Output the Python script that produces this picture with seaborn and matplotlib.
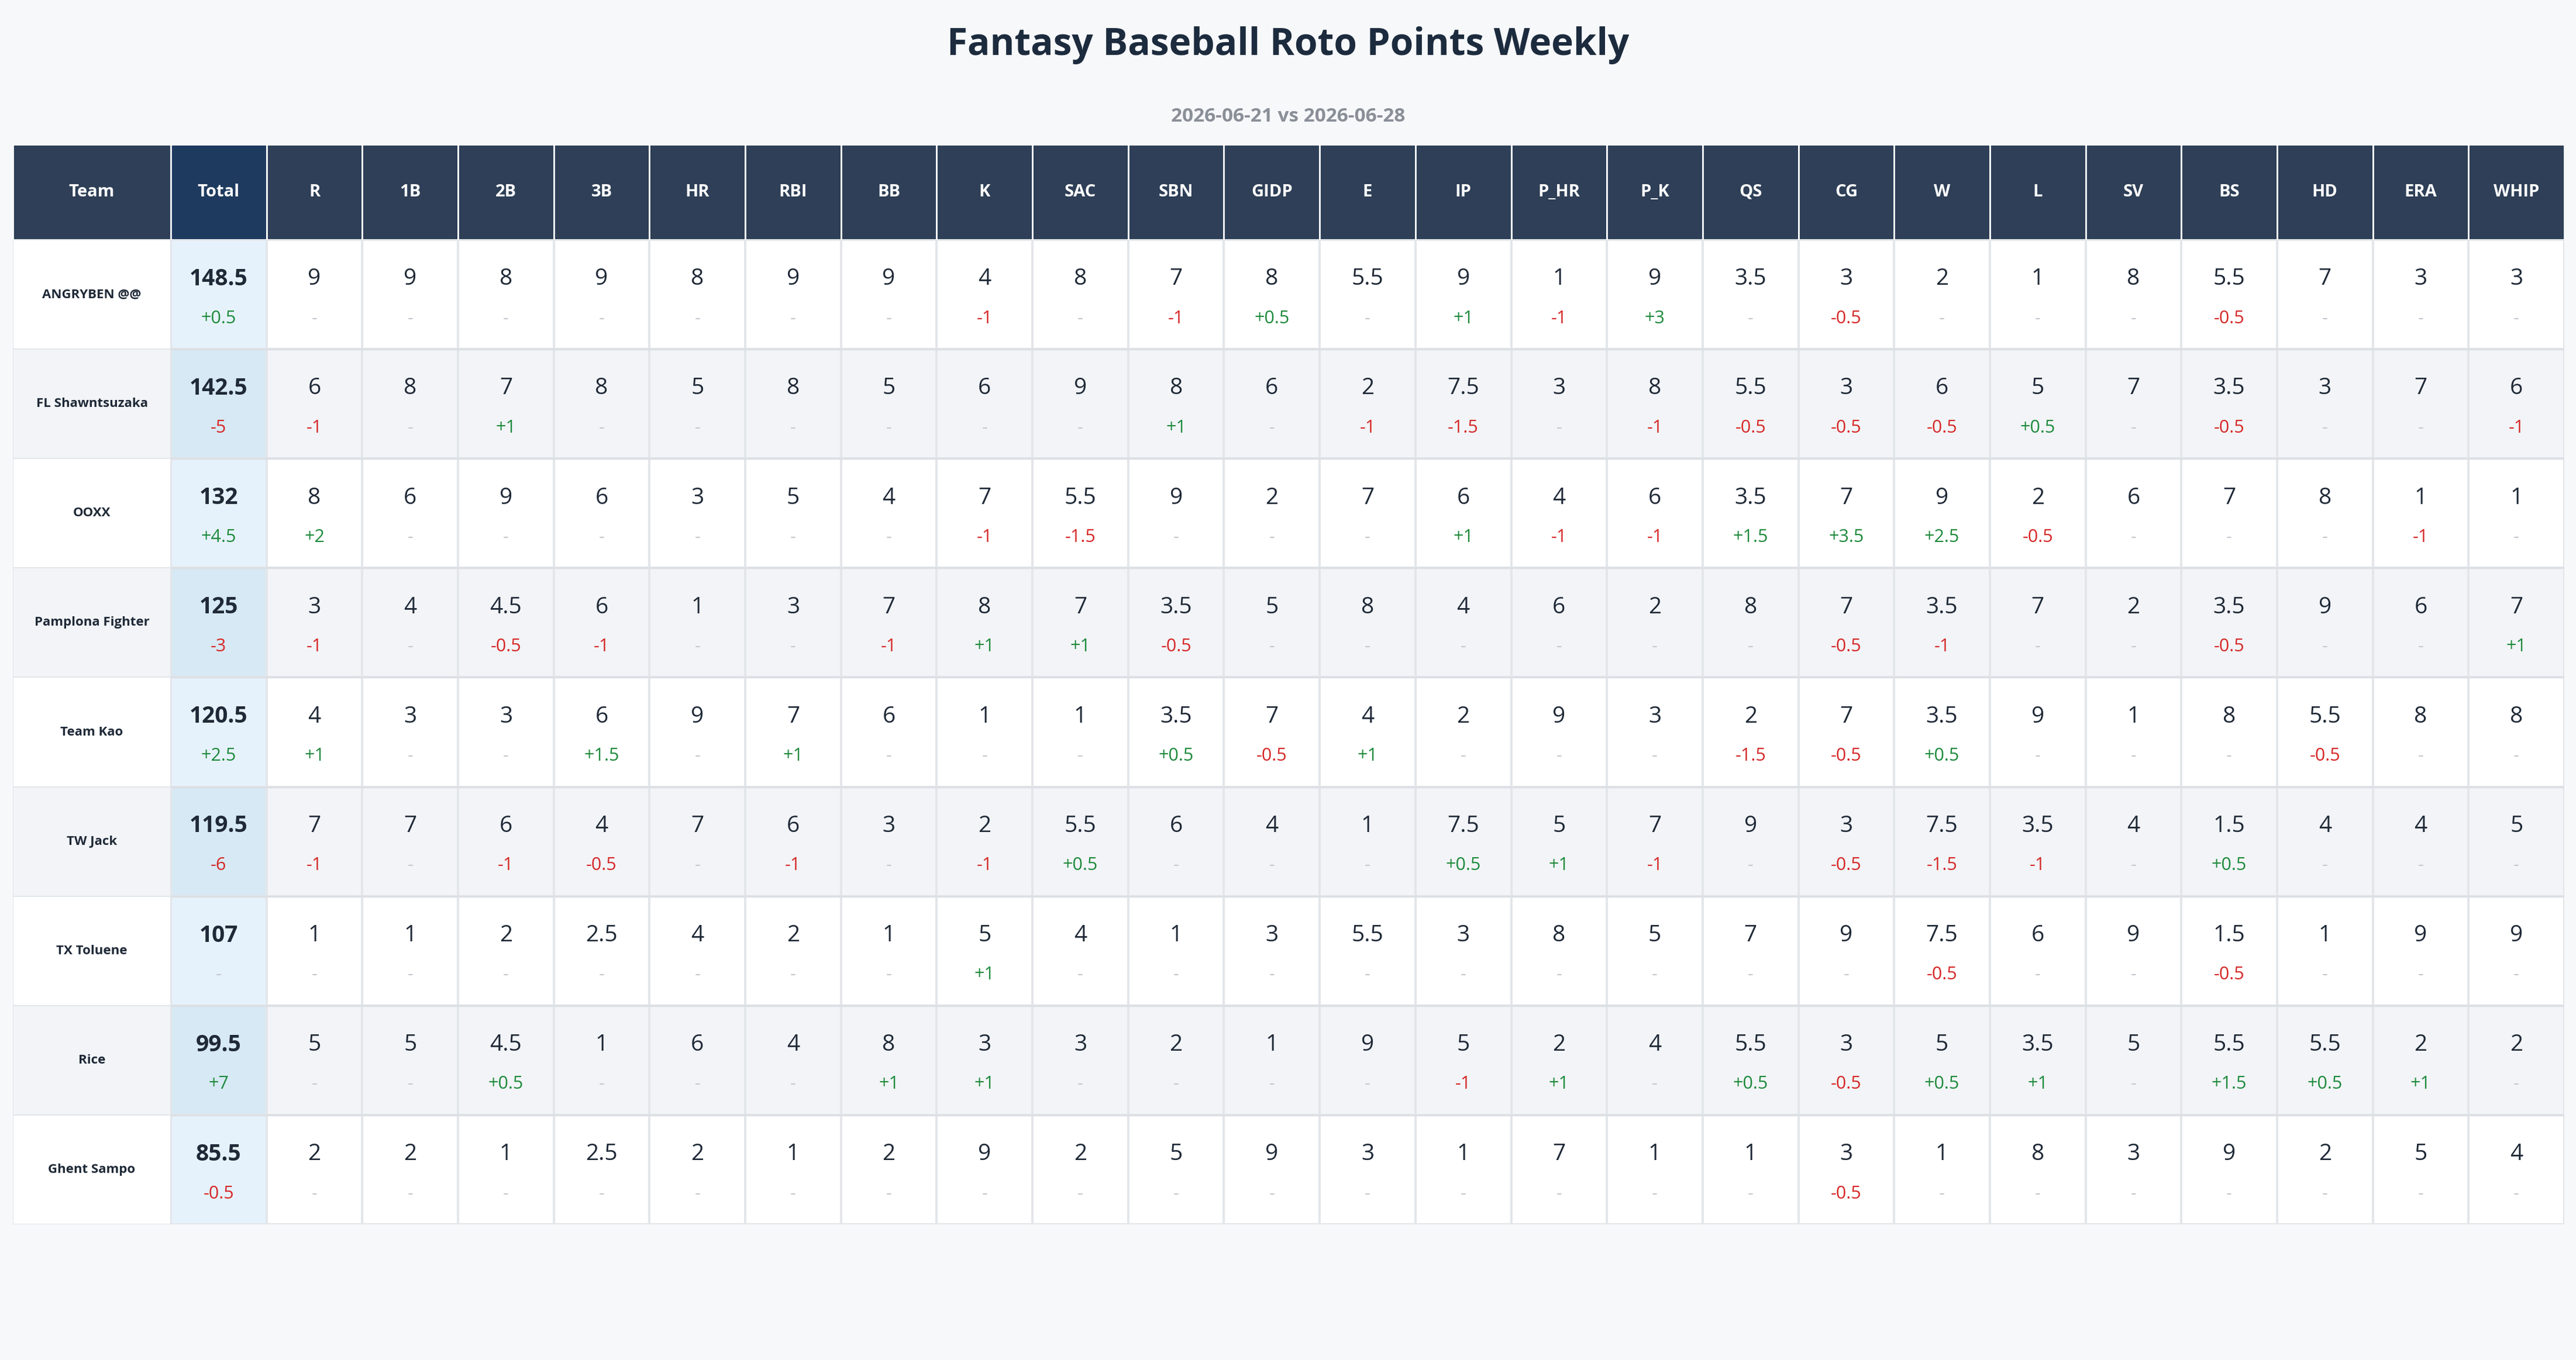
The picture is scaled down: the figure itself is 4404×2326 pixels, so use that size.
import numpy as np
import pandas as pd
import matplotlib.pyplot as plt
import seaborn as sns
from matplotlib.colors import ListedColormap
from matplotlib.patches import Rectangle

# ---- data ----
title = "Fantasy Baseball Roto Points Weekly"
subtitle = "2026-06-21 vs 2026-06-28"
categories = ["R", "1B", "2B", "3B", "HR", "RBI", "BB", "K", "SAC", "SBN", "GIDP", "E",
              "IP", "P_HR", "P_K", "QS", "CG", "W", "L", "SV", "BS", "HD", "ERA", "WHIP"]
teams = ["ANGRYBEN @@", "FL Shawntsuzaka", "OOXX", "Pamplona Fighter", "Team Kao",
         "TW Jack", "TX Toluene", "Rice", "Ghent Sampo"]
totals = [148.5, 142.5, 132, 125, 120.5, 119.5, 107, 99.5, 85.5]
total_delta = [0.5, -5, 4.5, -3, 2.5, -6, 0, 7, -0.5]
points = [
    [9, 9, 8, 9, 8, 9, 9, 4, 8, 7, 8, 5.5, 9, 1, 9, 3.5, 3, 2, 1, 8, 5.5, 7, 3, 3],
    [6, 8, 7, 8, 5, 8, 5, 6, 9, 8, 6, 2, 7.5, 3, 8, 5.5, 3, 6, 5, 7, 3.5, 3, 7, 6],
    [8, 6, 9, 6, 3, 5, 4, 7, 5.5, 9, 2, 7, 6, 4, 6, 3.5, 7, 9, 2, 6, 7, 8, 1, 1],
    [3, 4, 4.5, 6, 1, 3, 7, 8, 7, 3.5, 5, 8, 4, 6, 2, 8, 7, 3.5, 7, 2, 3.5, 9, 6, 7],
    [4, 3, 3, 6, 9, 7, 6, 1, 1, 3.5, 7, 4, 2, 9, 3, 2, 7, 3.5, 9, 1, 8, 5.5, 8, 8],
    [7, 7, 6, 4, 7, 6, 3, 2, 5.5, 6, 4, 1, 7.5, 5, 7, 9, 3, 7.5, 3.5, 4, 1.5, 4, 4, 5],
    [1, 1, 2, 2.5, 4, 2, 1, 5, 4, 1, 3, 5.5, 3, 8, 5, 7, 9, 7.5, 6, 9, 1.5, 1, 9, 9],
    [5, 5, 4.5, 1, 6, 4, 8, 3, 3, 2, 1, 9, 5, 2, 4, 5.5, 3, 5, 3.5, 5, 5.5, 5.5, 2, 2],
    [2, 2, 1, 2.5, 2, 1, 2, 9, 2, 5, 9, 3, 1, 7, 1, 1, 3, 1, 8, 3, 9, 2, 5, 4],
]
deltas = [
    [0, 0, 0, 0, 0, 0, 0, -1, 0, -1, 0.5, 0, 1, -1, 3, 0, -0.5, 0, 0, 0, -0.5, 0, 0, 0],
    [-1, 0, 1, 0, 0, 0, 0, 0, 0, 1, 0, -1, -1.5, 0, -1, -0.5, -0.5, -0.5, 0.5, 0, -0.5, 0, 0, -1],
    [2, 0, 0, 0, 0, 0, 0, -1, -1.5, 0, 0, 0, 1, -1, -1, 1.5, 3.5, 2.5, -0.5, 0, 0, 0, -1, 0],
    [-1, 0, -0.5, -1, 0, 0, -1, 1, 1, -0.5, 0, 0, 0, 0, 0, 0, -0.5, -1, 0, 0, -0.5, 0, 0, 1],
    [1, 0, 0, 1.5, 0, 1, 0, 0, 0, 0.5, -0.5, 1, 0, 0, 0, -1.5, -0.5, 0.5, 0, 0, 0, -0.5, 0, 0],
    [-1, 0, -1, -0.5, 0, -1, 0, -1, 0.5, 0, 0, 0, 0.5, 1, -1, 0, -0.5, -1.5, -1, 0, 0.5, 0, 0, 0],
    [0, 0, 0, 0, 0, 0, 0, 1, 0, 0, 0, 0, 0, 0, 0, 0, 0, -0.5, 0, 0, -0.5, 0, 0, 0],
    [0, 0, 0.5, 0, 0, 0, 1, 1, 0, 0, 0, 0, -1, 1, 0, 0.5, -0.5, 0.5, 1, 0, 1.5, 0.5, 1, 0],
    [0, 0, 0, 0, 0, 0, 0, 0, 0, 0, 0, 0, 0, 0, 0, 0, -0.5, 0, 0, 0, 0, 0, 0, 0],
]

BG = "#f7f8fa"
HEAD = "#2e3f57"
HEAD_TOTAL = "#1e3a5f"
TXT = "#1f2937"
GREEN = "#1e8a3c"
RED = "#d62828"
DASH = "#c4c8ce"
GRID = "#e3e6ea"
FONT = ["Open Sans", "DejaVu Sans"]


def fmt(v):
    return f"{v:g}"


def fmt_delta(v):
    if v == 0:
        return "-", DASH
    return (f"+{v:g}", GREEN) if v > 0 else (f"{v:g}", RED)


W, H = 4404, 2326
fig = plt.figure(figsize=(W / 100, H / 100), dpi=100, facecolor=BG)
plt.rcParams['font.family'] = FONT

# table geometry in pixels
left, right = 22, 4384
team_w = 270
head_top, head_bot = 247, 410
body_bot = 2094
n_rows = len(teams)
n_cols = len(categories) + 1
body_left = left + team_w


def fr(x0, y0, x1, y1):
    return [x0 / W, 1 - y1 / H, (x1 - x0) / W, (y1 - y0) / H]


# background canvas axis
base = fig.add_axes([0, 0, 1, 1])
base.set_xlim(0, W)
base.set_ylim(H, 0)
base.axis("off")
base.text(W / 2, 78, title, ha="center", va="center", fontsize=46, fontweight="bold", color="#1c2b3d")
base.text(W / 2, 200, subtitle, ha="center", va="center", fontsize=24, fontweight="bold", color="#8a8f98")

# body cells: seaborn heatmap (Total + stat columns)
codes = np.zeros((n_rows, n_cols))
for i in range(n_rows):
    codes[i, :] = i % 2
    codes[i, 0] = 2 + i % 2
df = pd.DataFrame(codes, index=teams, columns=["Total"] + categories)
cmap = ListedColormap(["#ffffff", "#f2f4f7", "#e6f2fb", "#d7e9f4"])
ax = fig.add_axes(fr(body_left, head_bot, right, body_bot))
sns.heatmap(df, ax=ax, cmap=cmap, vmin=-0.5, vmax=3.5, cbar=False,
            linewidths=1.5, linecolor=GRID, xticklabels=False, yticklabels=False)
ax.set_xlabel("")
ax.set_ylabel("")
for i in range(n_rows):
    ax.text(0.5, i + 0.36, fmt(totals[i]), ha="center", va="center", fontsize=28,
            fontweight="bold", color=TXT)
    s, c = fmt_delta(total_delta[i])
    ax.text(0.5, i + 0.72, s, ha="center", va="center", fontsize=22, color=c)
    for j in range(len(categories)):
        ax.text(j + 1.5, i + 0.36, fmt(points[i][j]), ha="center", va="center", fontsize=28, color=TXT)
        s, c = fmt_delta(deltas[i][j])
        ax.text(j + 1.5, i + 0.72, s, ha="center", va="center", fontsize=22, color=c)
for i in range(1, n_rows):
    ax.axhline(i, color="#dcdfe4", lw=2.5)

# team column
tax = fig.add_axes(fr(left, head_bot, body_left, body_bot))
tax.set_xlim(0, 1)
tax.set_ylim(n_rows, 0)
tax.axis("off")
for i, t in enumerate(teams):
    tax.add_patch(Rectangle((0, i), 1, 1, facecolor="#ffffff" if i % 2 == 0 else "#f2f4f7",
                            edgecolor=GRID, lw=1.5))
    tax.text(0.5, i + 0.5, t, ha="center", va="center", fontsize=16, fontweight="bold", color=TXT)

# header
hax = fig.add_axes(fr(left, head_top, right, head_bot))
hax.set_xlim(left, right)
hax.set_ylim(1, 0)
hax.axis("off")
col_w = (right - body_left) / n_cols
headers = ["Team", "Total"] + categories
edges = [left, body_left] + [body_left + col_w * (k + 1) for k in range(n_cols)]
for k, h in enumerate(headers):
    x0, x1 = edges[k], edges[k + 1]
    hax.add_patch(Rectangle((x0, 0), x1 - x0, 1, facecolor=HEAD_TOTAL if h == "Total" else HEAD,
                            edgecolor="white", lw=2))
    hax.text((x0 + x1) / 2, 0.5, h, ha="center", va="center", fontsize=21, fontweight="bold",
             color="white")

fig.savefig("out.png", dpi=100, facecolor=BG)
